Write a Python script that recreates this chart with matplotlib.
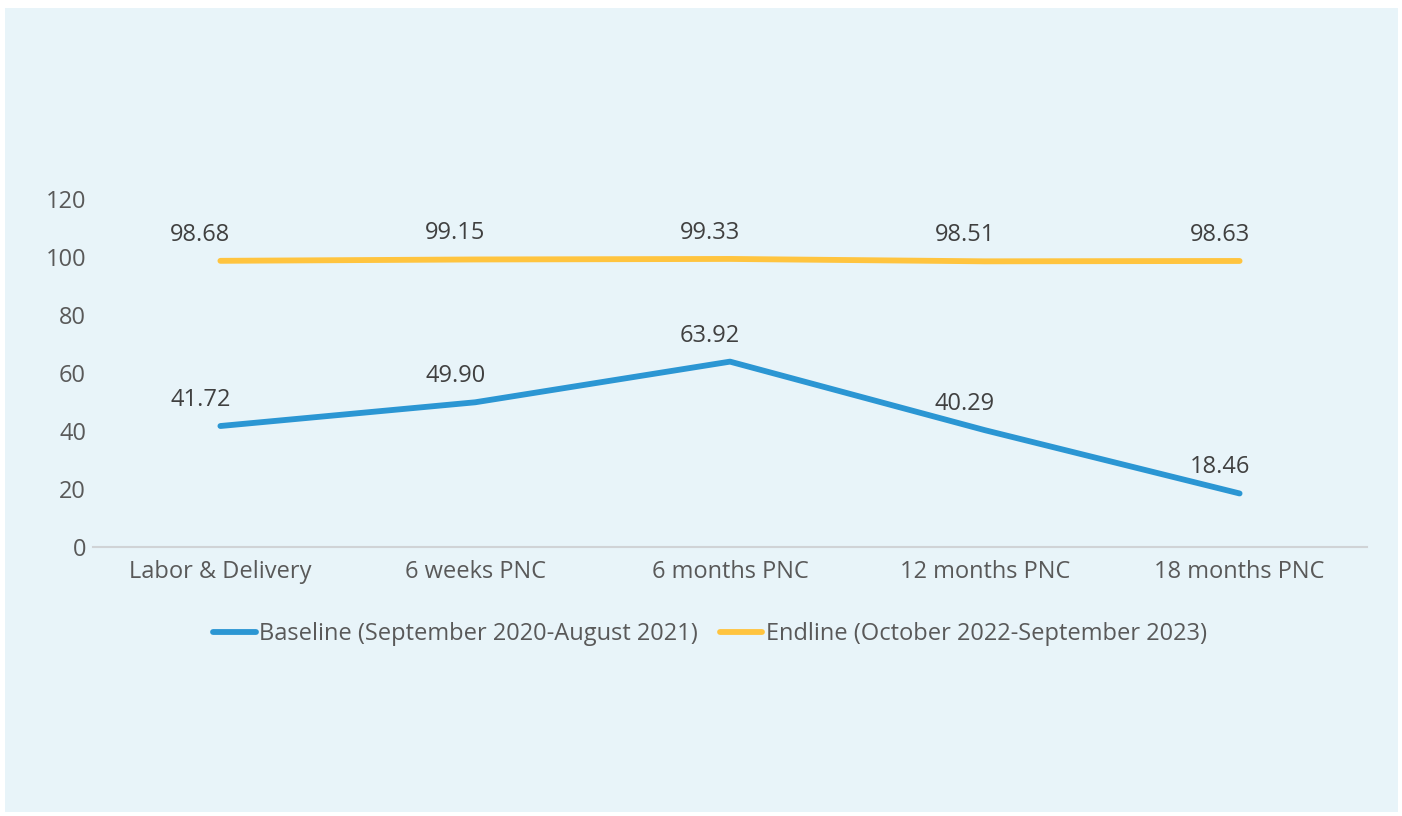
import matplotlib.pyplot as plt
import matplotlib.patches as mpatches

# chart data
categories = ["Labor & Delivery", "6 weeks PNC", "6 months PNC", "12 months PNC", "18 months PNC"]
baseline = [41.72, 49.90, 63.92, 40.29, 18.46]
endline = [98.68, 99.15, 99.33, 98.51, 98.63]
series_names = ["Baseline (September 2020-August 2021)", "Endline (October 2022-September 2023)"]
y_ticks = [0, 20, 40, 60, 80, 100, 120]

BG = "#E8F4F9"
BLUE = "#2B96D3"
YELLOW = "#FFC43F"
TICK_COLOR = "#595959"
LABEL_COLOR = "#404040"
FS = 17

plt.rcParams["font.family"] = ["Open Sans", "DejaVu Sans"]

W, H = 1402, 816
fig = plt.figure(figsize=(W / 100, H / 100), dpi=100)
fig.patch.set_facecolor("white")
# light blue panel behind everything
fig.patches.append(mpatches.Rectangle((5 / W, 4 / H), 1393 / W, 804 / H,
                                      transform=fig.transFigure, facecolor=BG,
                                      edgecolor="none", zorder=-1))

ax = fig.add_axes([93 / W, (H - 547) / H, 1274 / W, 348 / H])
ax.set_facecolor("none")

x = list(range(len(categories)))
ax.plot(x, baseline, color=BLUE, lw=4.2, solid_capstyle="round", label=series_names[0])
ax.plot(x, endline, color=YELLOW, lw=4.2, solid_capstyle="round", label=series_names[1])

for series in (baseline, endline):
    for xi, v in zip(x, series):
        ax.annotate(f"{v:.2f}", (xi, v), xytext=(-20, 26), textcoords="offset pixels",
                    ha="center", va="center", fontsize=FS, color=LABEL_COLOR)

ax.set_xlim(-0.5, len(categories) - 0.5)
ax.set_ylim(0, 120)
ax.set_yticks(y_ticks)
ax.set_xticks(x)
ax.set_xticklabels(categories)
ax.tick_params(axis="both", length=0, labelsize=FS, labelcolor=TICK_COLOR)
ax.tick_params(axis="y", pad=5)
ax.tick_params(axis="x", pad=9)

for side in ["top", "right", "left"]:
    ax.spines[side].set_visible(False)
ax.spines["bottom"].set_color("#D0D3D6")
ax.spines["bottom"].set_linewidth(1.5)

leg = fig.legend(loc="center", bbox_to_anchor=(710 / W, (H - 634) / H), ncol=2,
                 frameon=False, fontsize=FS, handlelength=1.8, handletextpad=0.15,
                 columnspacing=0.9)
for t in leg.get_texts():
    t.set_color(TICK_COLOR)

fig.savefig("out.png", dpi=100, facecolor=fig.get_facecolor())
